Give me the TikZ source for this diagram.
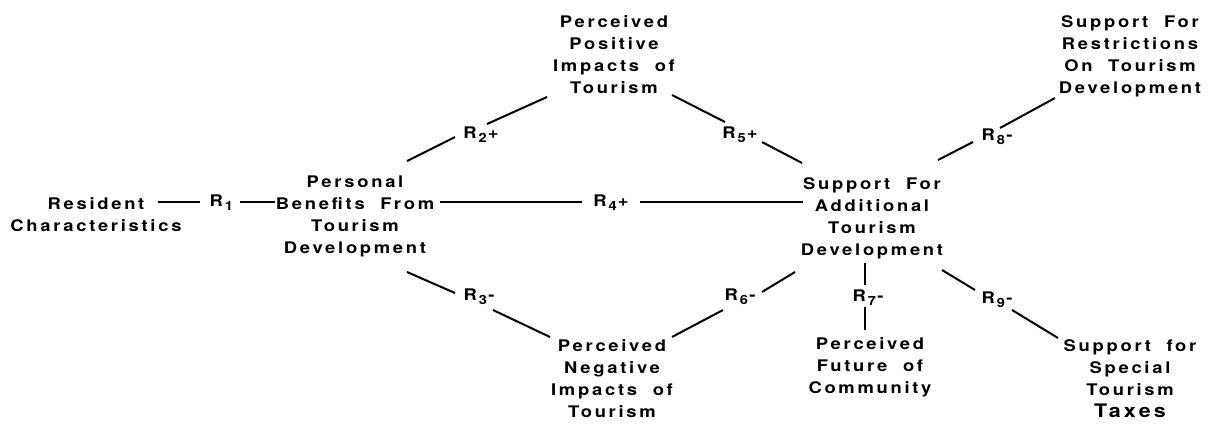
\documentclass[tikz,border=0pt]{standalone}
\usepackage{fontspec}
\newfontfamily\labfont[FakeStretch=1.15,LetterSpace=17]{TeX Gyre Heros}
\newcommand{\rl}[2]{R\kern1.5pt\raisebox{-0.45ex}{\fontsize{9.5}{9.5}\selectfont #1}\kern1pt#2}
\begin{document}
\begin{tikzpicture}[x=0.75pt,y=-0.75pt,
  lbl/.style={align=center, inner sep=0pt, font=\labfont\bfseries\fontsize{12}{16.5}\selectfont},
  rel/.style={inner sep=0pt, font=\labfont\bfseries\fontsize{12}{16.5}\selectfont},
  conn/.style={line width=1.5pt}]
\useasboundingbox (0,0) rectangle (1209,425);
% concept nodes
\node[lbl] (res) at (96,215) {Resident\\Characteristics};
\node[lbl] (pb)  at (355,216) {Personal\\Benefits\ \ From\\Tourism\\Development};
\node[lbl] (ppi) at (614,55) {Perceived\\Positive\\Impacts\ \ of\\Tourism};
\node[lbl] (pni) at (612,379) {Perceived\\Negative\\Impacts\ \ of\\Tourism};
\node[lbl] (sa)  at (872,218) {Support\ \ For\\Additional\\Tourism\\Development};
\node[lbl] (sr)  at (1130,56) {Support\ \ For\\Restrictions\\On\ \ Tourism\\Development};
\node[lbl] (pf)  at (870,367) {Perceived\\Future\ \ of\\Community};
\node[lbl] (st)  at (1130,379) {Support\ \ for\\Special\\Tourism\\{\fontsize{14}{16.5}\selectfont Taxes}};
% relation labels
\node[rel] (r1) at (222,203) {\rl{1}{}};
\node[rel] (r2) at (481,135) {\rl{2}{+}};
\node[rel] (r3) at (479,297) {\rl{3}{-}};
\node[rel] (r4) at (611,203) {\rl{4}{+}};
\node[rel] (r5) at (740,135) {\rl{5}{+}};
\node[rel] (r6) at (740,297) {\rl{6}{-}};
\node[rel] (r7) at (868,298) {\rl{7}{-}};
\node[rel] (r8) at (997,137) {\rl{8}{-}};
\node[rel] (r9) at (997,300) {\rl{9}{-}};
% connectors
\draw[conn] ([shift={(62,-13)}]res.center) -- ([shift={(-22,-1)}]r1.center);
\draw[conn] ([shift={(18,-1)}]r1.center) -- ([shift={(-80,-14)}]pb.center);
\draw[conn] ([shift={(52,-55)}]pb.center) -- ([shift={(-26,2)}]r2.center);
\draw[conn] ([shift={(6,-11)}]r2.center) -- ([shift={(-67,42)}]ppi.center);
\draw[conn] ([shift={(85,-14)}]pb.center) -- ([shift={(-29,-1)}]r4.center);
\draw[conn] ([shift={(29,-1)}]r4.center) -- ([shift={(-69,-16)}]sa.center);
\draw[conn] ([shift={(58,40)}]ppi.center) -- ([shift={(-15,-13)}]r5.center);
\draw[conn] ([shift={(22,7)}]r5.center) -- ([shift={(-70,-55)}]sa.center);
\draw[conn] ([shift={(52,56)}]pb.center) -- ([shift={(-24,-4)}]r3.center);
\draw[conn] ([shift={(14,13)}]r3.center) -- ([shift={(-62,-42)}]pni.center);
\draw[conn] ([shift={(60,-42)}]pni.center) -- ([shift={(-17,13)}]r6.center);
\draw[conn] ([shift={(22,-5)}]r6.center) -- ([shift={(-77,54)}]sa.center);
\draw[conn] ([shift={(-7,45)}]sa.center) -- ([shift={(-3,-13)}]r7.center);
\draw[conn] ([shift={(-3,9)}]r7.center) -- ([shift={(-5,-37)}]pf.center);
\draw[conn] ([shift={(66,-58)}]sa.center) -- ([shift={(-24,5)}]r8.center);
\draw[conn] ([shift={(3,-9)}]r8.center) -- ([shift={(-75,42)}]sr.center);
\draw[conn] ([shift={(70,52)}]sa.center) -- ([shift={(-22,-10)}]r9.center);
\draw[conn] ([shift={(15,10)}]r9.center) -- ([shift={(-72,-41)}]st.center);
\end{tikzpicture}
\end{document}
